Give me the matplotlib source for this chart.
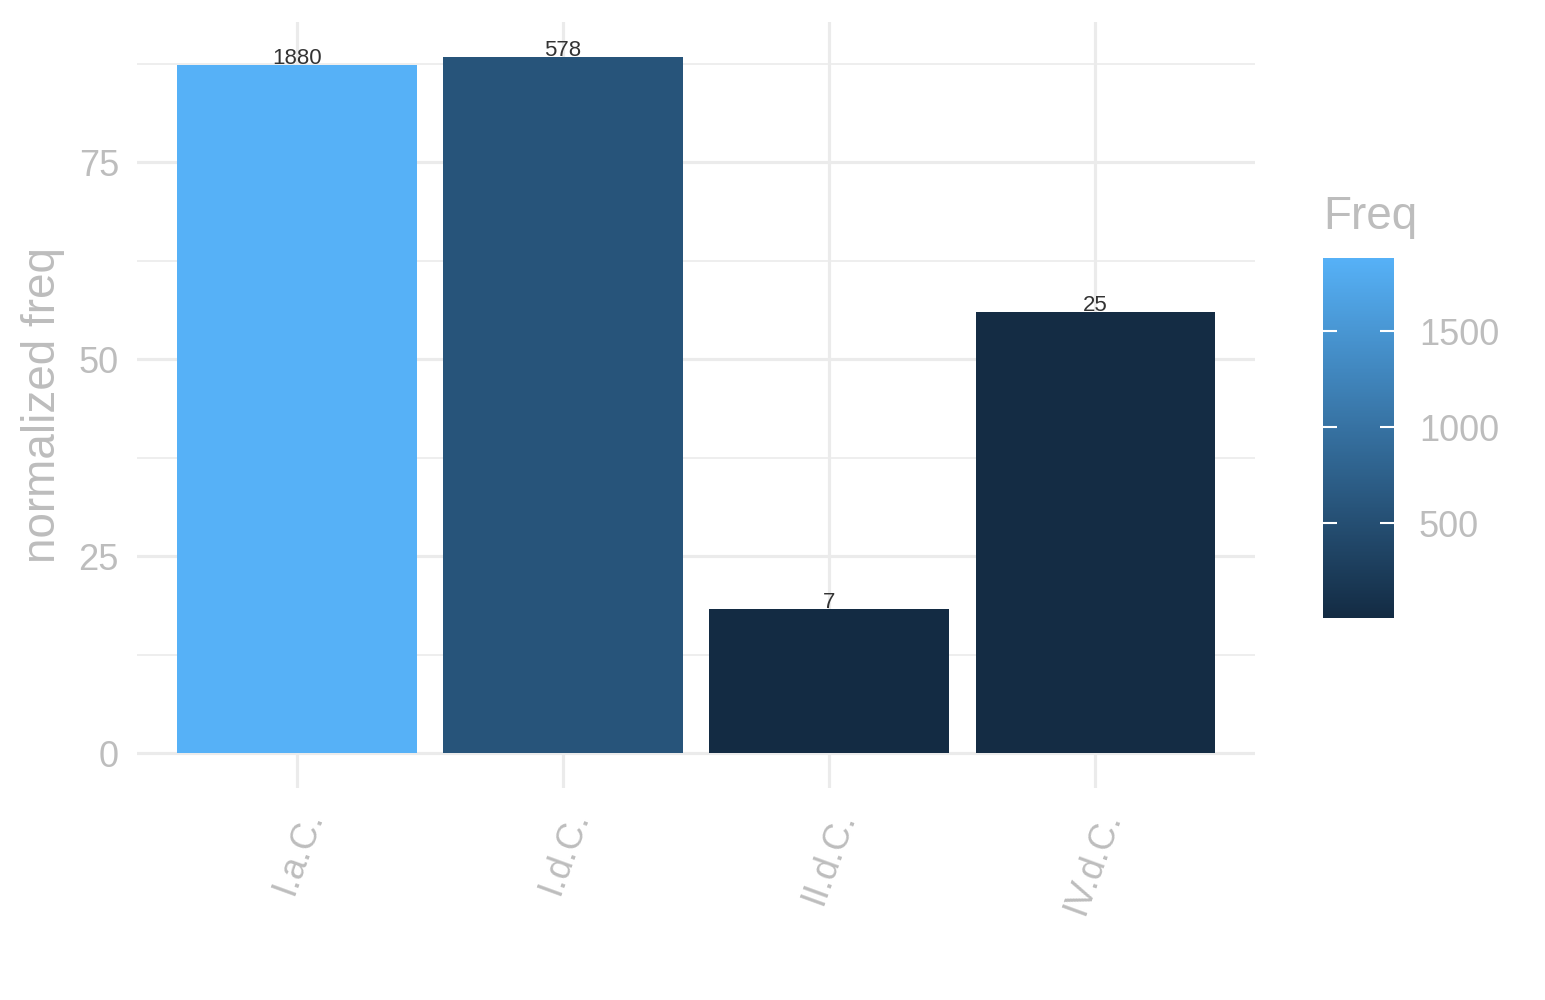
import numpy as np
import matplotlib.pyplot as plt
import matplotlib as mpl
from matplotlib.colors import LinearSegmentedColormap, Normalize

# data
periods = ["I.a.C.", "I.d.C.", "II.d.C.", "IV.d.C."]
norm_freq = [87.4, 88.4, 18.3, 56.0]
freq = [1880, 578, 7, 25]

plt.rcParams['font.family'] = ['Liberation Sans', 'DejaVu Sans']
grey_txt = '#BDBDBD'
grid_col = '#EBEBEB'

cmap = LinearSegmentedColormap.from_list('gg', ['#132B43', '#56B1F7'])
norm = Normalize(vmin=min(freq), vmax=max(freq))

fig = plt.figure(figsize=(15.45, 10), dpi=100)
ax = fig.add_axes([137 / 1545, 1 - 788 / 1000, (1255 - 137) / 1545, (788 - 22) / 1000])

x = np.arange(1, len(periods) + 1)
ax.bar(x, norm_freq, width=0.9, color=cmap(norm(freq)), zorder=2)
for xi, yi, f in zip(x, norm_freq, freq):
    ax.text(xi, yi + 0.15, str(f), ha='center', va='baseline', fontsize=16, color='#333333', zorder=3)

ymax = max(norm_freq)
ax.set_ylim(-0.05 * ymax, ymax * 1.05)
ax.set_xlim(0.4, 4.6)
ax.set_yticks([0, 25, 50, 75])
ax.set_yticks([12.5, 37.5, 62.5, 87.5], minor=True)
ax.set_xticks(x)
ax.set_xticklabels(periods, rotation=70, ha='right', va='top', rotation_mode='anchor')
ax.grid(which='major', color=grid_col, linewidth=2.3, zorder=0)
ax.grid(which='minor', axis='y', color=grid_col, linewidth=1.2, zorder=0)
for s in ax.spines.values():
    s.set_visible(False)
ax.tick_params(axis='both', which='both', length=0, colors=grey_txt, labelsize=26)
ax.tick_params(axis='y', pad=13)
ax.tick_params(axis='x', pad=13)
ax.set_ylabel('normalized freq', fontsize=33, color=grey_txt, labelpad=10)

# colour legend
cax = fig.add_axes([1323 / 1545, 1 - 618 / 1000, (1394 - 1323) / 1545, (618 - 258) / 1000])
cb = fig.colorbar(mpl.cm.ScalarMappable(norm=norm, cmap=cmap), cax=cax, ticks=[500, 1000, 1500])
cb.outline.set_visible(False)
cax.tick_params(left=True, right=True, direction='in', length=10, width=1.5,
                color='white', labelcolor=grey_txt, labelsize=26, pad=18)
fig.text(1323 / 1545, 1 - 217 / 1000, 'Freq', fontsize=33, color=grey_txt, ha='left', va='center')

fig.savefig('out.png', dpi=100, facecolor='white')
